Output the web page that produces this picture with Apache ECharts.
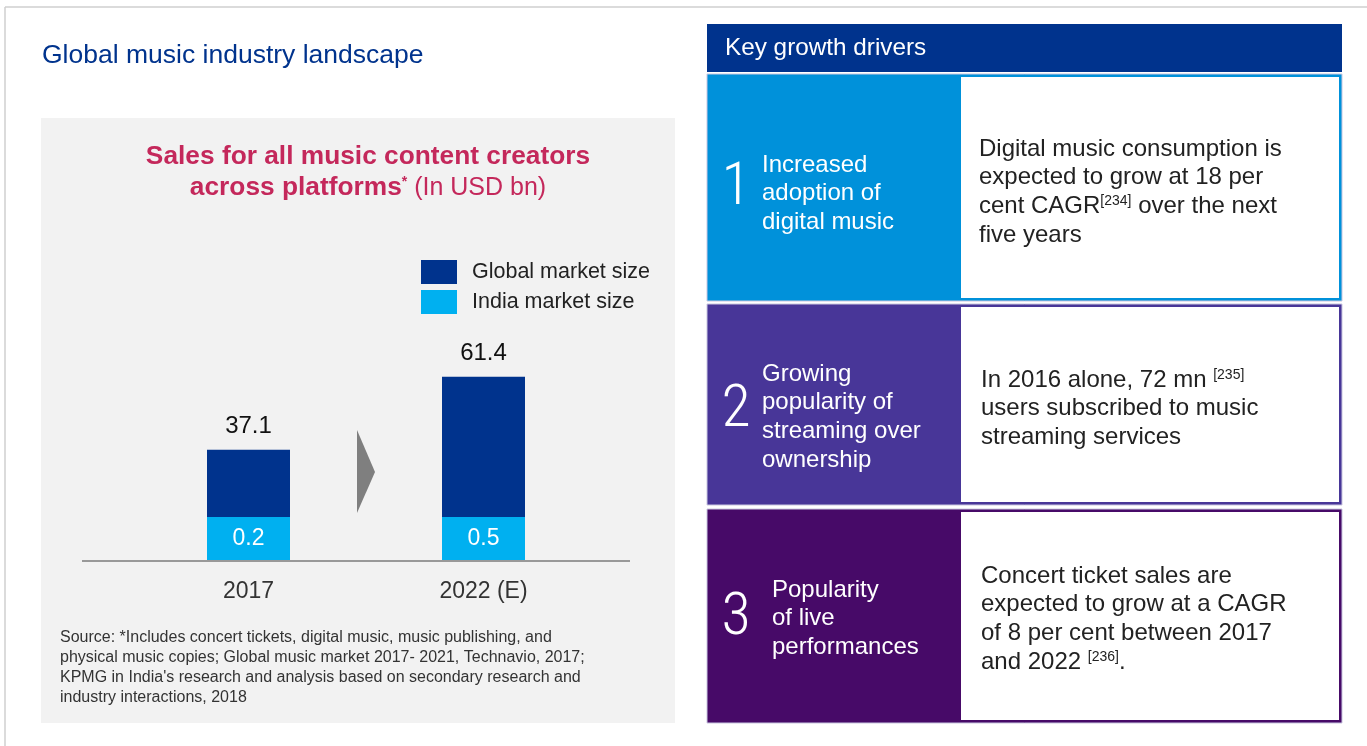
<!DOCTYPE html>
<html>
<head>
<meta charset="utf-8">
<script src="https://cdn.jsdelivr.net/npm/echarts@6/dist/echarts.min.js"></script>
<style>
html,body{margin:0;padding:0;background:#fff;}
#c{width:1367px;height:746px;}
</style>
</head>
<body>
<div id="c"></div>
<script>
// ---- data ----
const categories = ['2017', '2022 (E)'];
const globalMarket = [37.1, 61.4];
const indiaMarket = [0.2, 0.5];
const seriesNames = ['Global market size', 'India market size'];
const pageTitle = 'Global music industry landscape';
const chartTitleLine1 = 'Sales for all music content creators';
const chartTitleLine2a = 'across platforms';
const chartTitleLine2b = ' (In USD bn)';
const sourceLines = [
  'Source: *Includes concert tickets, digital music, music publishing, and',
  'physical music copies; Global music market 2017- 2021, Technavio, 2017;',
  "KPMG in India's research and analysis based on secondary research and",
  'industry interactions, 2018'
];
const driversHeader = 'Key growth drivers';
const driverNumbers = ['1', '2', '3'];
const driverTitles = [
  ['Increased', 'adoption of', 'digital music'],
  ['Growing', 'popularity of', 'streaming over', 'ownership'],
  ['Popularity', 'of live', 'performances']
];
const driverTexts = [
  ['Digital music consumption is', 'expected to grow at 18 per', 'cent CAGR{sup|[234]} over the next', 'five years'],
  ['In 2016 alone, 72 mn {sup|[235]}', 'users subscribed to music', 'streaming services'],
  ['Concert ticket sales are', 'expected to grow at a CAGR', 'of 8 per cent between 2017', 'and 2022 {sup|[236]}.']
];

// ---- styling ----
const NARROW = "'Liberation Sans Narrow','Arial Narrow','Roboto Condensed','Liberation Sans',sans-serif";
const SANS = "'Liberation Sans',Arial,sans-serif";
const BLUE = '#00338D';
const LIGHTBLUE = '#00B0F0';
const CRIMSON = '#C4285B';
const boxColors = ['#0091DA', '#483698', '#470A68'];
const boxes = [
  {y: 74, h: 227, numY: 189, titleX: 762, titleY: 165, textY: 149},
  {y: 304, h: 201, numY: 411, titleX: 762, titleY: 374, textY: 380},
  {y: 509, h: 214, numY: 619, titleX: 772, titleY: 590, textY: 576}
];

const chart = echarts.init(document.getElementById('c'), null, {renderer: 'canvas'});

const graphics = [];
// page border
graphics.push({type: 'line', shape: {x1: 5, y1: 7, x2: 1367, y2: 7}, style: {stroke: '#cfcfcf', lineWidth: 1.5}});
graphics.push({type: 'line', shape: {x1: 5, y1: 7, x2: 5, y2: 746}, style: {stroke: '#cfcfcf', lineWidth: 1.5}});
// page title
graphics.push({type: 'text', x: 42, y: 56, style: {text: pageTitle, font: "26.5px " + SANS, fill: BLUE, verticalAlign: 'middle'}});
// gray panel
graphics.push({type: 'rect', shape: {x: 41, y: 118, width: 634, height: 605}, style: {fill: '#F2F2F2'}, z: -10});
// chart title
graphics.push({type: 'text', x: 368, y: 157, style: {text: chartTitleLine1, font: "bold 26.3px " + SANS, fill: CRIMSON, align: 'center', verticalAlign: 'middle'}});
graphics.push({type: 'text', x: 368, y: 188, style: {
  text: '{b|' + chartTitleLine2a + '}{s|*}{n|' + chartTitleLine2b + '}',
  align: 'center', verticalAlign: 'middle',
  rich: {
    b: {font: "bold 26.3px " + SANS, fill: CRIMSON},
    s: {font: "bold 14px " + SANS, fill: CRIMSON, verticalAlign: 'top', padding: [0, 0, 10, 0]},
    n: {font: "25px " + SANS, fill: CRIMSON}
  }
}});
// baseline
graphics.push({type: 'line', shape: {x1: 82, y1: 561, x2: 630, y2: 561}, style: {stroke: '#999', lineWidth: 2}, z: 50});
// arrow
graphics.push({type: 'polygon', shape: {points: [[357, 430], [375, 472], [357, 513]]}, style: {fill: '#7F7F7F'}});
// source
sourceLines.forEach((t, i) => {
  graphics.push({type: 'text', x: 60, y: 638 + i * 19.7, style: {text: t, font: "16px " + SANS, fill: '#333', verticalAlign: 'middle'}});
});
// right panel header
graphics.push({type: 'rect', shape: {x: 707, y: 24, width: 635, height: 48}, style: {fill: BLUE}});
graphics.push({type: 'text', x: 725, y: 48, style: {text: driversHeader, font: "24.3px " + SANS, fill: '#fff', verticalAlign: 'middle'}});
// boxes
boxes.forEach((b, i) => {
  graphics.push({type: 'rect', shape: {x: 707, y: b.y, width: 635, height: b.h}, style: {fill: boxColors[i], stroke: '#c9c6e0', lineWidth: 1}});
  graphics.push({type: 'rect', shape: {x: 961, y: b.y + 3, width: 378, height: b.h - 6}, style: {fill: '#fff'}});
  graphics.push({type: 'text', x: 736, y: b.numY, style: {text: driverNumbers[i], font: "300 60px " + NARROW, fill: '#fff', align: 'center', verticalAlign: 'middle'}});
  driverTitles[i].forEach((t, j) => {
    graphics.push({type: 'text', x: b.titleX, y: b.titleY + j * 28.7, style: {text: t, font: "24px " + SANS, fill: '#fff', verticalAlign: 'middle'}});
  });
  driverTexts[i].forEach((t, j) => {
    graphics.push({type: 'text', x: 979 + (i > 0 ? 2 : 0), y: b.textY + j * 28.7, style: {
      text: t, font: "24px " + SANS, fill: '#222', verticalAlign: 'middle',
      rich: {sup: {font: "14px " + SANS, fill: '#222', verticalAlign: 'top', padding: [0, 0, 10, 0]}}
    }});
  });
});

const option = {
  animation: false,
  backgroundColor: '#fff',
  legend: {
    data: seriesNames,
    orient: 'vertical',
    left: 421, top: 260, padding: 0,
    itemWidth: 36, itemHeight: 24, itemGap: 6,
    icon: 'rect',
    textStyle: {fontSize: 21.5, color: '#222', fontFamily: SANS, padding: [3, 0, 0, 10]}
  },
  grid: {left: 131, right: 766, top: 351, bottom: 185},
  xAxis: {
    type: 'category', data: categories,
    axisLine: {show: false}, axisTick: {show: false},
    axisLabel: {fontSize: 23, color: '#333', fontFamily: SANS, margin: 19}
  },
  yAxis: {type: 'value', min: 0, max: 70, show: false, splitLine: {show: false}},
  series: [
    {
      name: seriesNames[0], type: 'bar', data: globalMarket, barWidth: 83,
      itemStyle: {color: BLUE},
      label: {show: true, position: 'top', distance: 11, fontSize: 24, color: '#111', fontFamily: SANS},
      z: 2
    },
    {
      name: seriesNames[1], type: 'bar', data: indiaMarket, barWidth: 83, barGap: '-100%',
      barMinHeight: 44,
      itemStyle: {color: LIGHTBLUE},
      label: {show: true, position: 'inside', fontSize: 23, color: '#fff', fontFamily: SANS},
      z: 3
    }
  ],
  graphic: {elements: graphics}
};
chart.setOption(option);
</script>
</body>
</html>
